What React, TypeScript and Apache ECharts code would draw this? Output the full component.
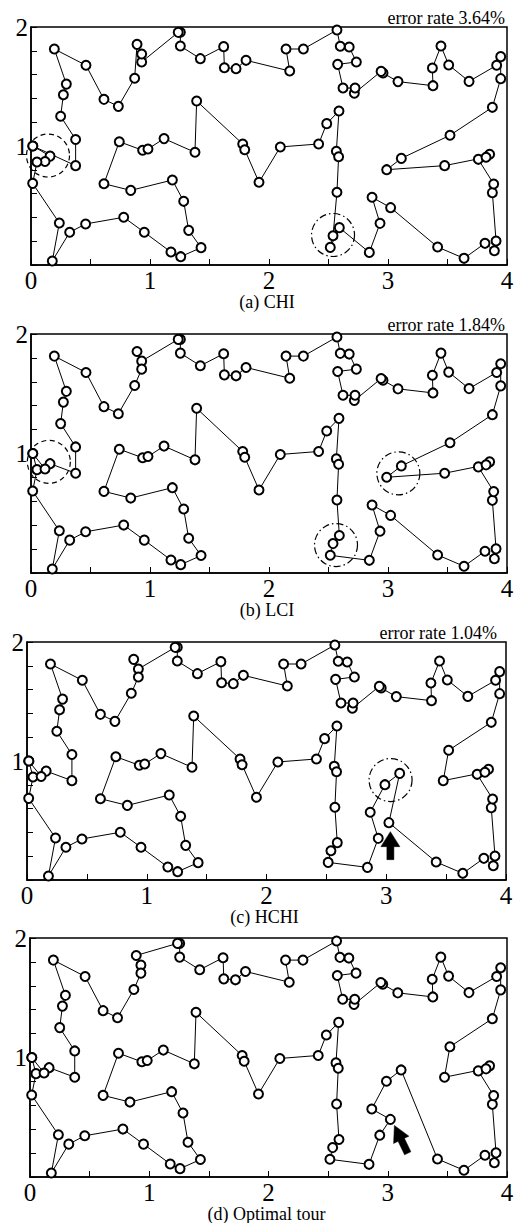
import React, { useEffect, useRef } from 'react';
import * as echarts from 'echarts';

// ---- city coordinates ----
const cityNames = [
  'L1','L2','L3','L4','L5','L6','L7','L8','L9','L10','L11','L12','L13','L14','L15','L16','L17','L18a','L18b','L19','L20','L21','L22','L23','L24',
  'L25','L26','L27','L28','L29','L30','L31','L32','L33','L34','L35','L36','L37','L38','L39','L40','L41','L42','L43','L44','L45','L46','L47','L48',
  'R1','R2','R3','R4','R5','R6','R7','R8','R9','R10','R11','R12a','R12b','R13','R14','R15','R16','R17','R18','R19','R20','R21','R22','R23','R24',
  'R25','R26','R27','R28a','R28b','R29','R30','R31','R32','R33','R34','R35','R36','R37','R38','R39','R40','R41','R42','R43','R44','R45','R46','R47','R48','R49'
];
const cityX = [
  0.015,0.05,0.118,0.16,0.375,0.375,0.249,0.272,0.297,0.196,0.462,0.613,0.734,0.871,0.891,0.93,0.93,1.237,1.255,1.255,1.423,1.619,1.625,1.723,1.807,
  1.392,1.779,1.796,1.916,1.378,1.118,0.983,0.938,0.742,0.613,0.838,1.188,1.283,1.325,1.429,1.258,1.176,0.952,0.779,0.459,0.325,0.179,0.238,0.014,
  2.174,2.143,2.289,2.571,2.599,2.674,2.734,2.577,2.622,2.723,2.717,2.942,2.958,3.084,3.378,3.373,3.445,3.51,3.681,3.913,3.947,3.947,3.877,3.521,3.112,
  2.989,3.476,3.759,3.824,3.854,3.888,3.877,3.908,3.894,3.815,3.639,3.417,3.022,2.866,2.933,2.843,2.591,2.538,2.515,2.571,2.585,2.566,2.588,2.485,2.417,2.095
];
const cityY = [
  1.0,0.865,0.87,0.915,0.835,1.055,1.25,1.43,1.52,1.815,1.678,1.392,1.333,1.569,1.854,1.773,1.706,1.955,1.955,1.84,1.734,1.835,1.658,1.65,1.72,
  1.378,1.017,0.969,0.695,0.947,1.062,0.975,0.964,1.036,0.683,0.627,0.714,0.535,0.291,0.146,0.07,0.109,0.275,0.401,0.345,0.275,0.034,0.353,0.686,
  1.63,1.815,1.815,1.975,1.838,1.832,1.706,1.686,1.487,1.487,1.443,1.627,1.613,1.541,1.507,1.655,1.84,1.681,1.543,1.678,1.751,1.566,1.325,1.09,0.896,
  0.801,0.835,0.888,0.905,0.93,0.681,0.608,0.202,0.12,0.182,0.056,0.151,0.482,0.569,0.35,0.106,0.314,0.246,0.148,0.611,0.91,0.955,1.294,1.188,1.017,0.992
];

// ---- tours (visiting order, closed back to the first city) ----
const tourCHI = [
  'L1','L4','L3','L2','L48','L47','L46','L45','L44','L43','L42','L41','L40','L39','L38','L37','L36','L35','L34','L33','L32','L31','L30','L29','L25','L26','L27','L28',
  'R49','R48','R47','R46','R45','R44','R43','R41','R42','R40','R39','R38','R37','R36','R35','R34','R33','R32','R31','R30','R29','R27','R28b','R28a','R26','R25','R24','R23',
  'R22','R21','R20','R19','R18','R17','R16','R15','R14','R13','R12b','R12a','R11','R10','R9','R8','R7','R6','R5','R4','R3','R2','R1',
  'L24','L23','L22','L21','L20','L19','L18b','L18a','L17','L16','L15','L14','L13','L12','L11','L10','L9','L8','L7','L6','L5'
];
const tourLCI = [
  'L1','L2','L48','L47','L46','L45','L44','L43','L42','L41','L40','L39','L38','L37','L36','L35','L34','L33','L32','L31','L30','L29','L25','L26','L27','L28',
  'R49','R48','R47','R46','R45','R44','R43','R40','R41','R42','R39','R38','R37','R36','R35','R34','R33','R32','R31','R30','R29','R27','R28b','R28a','R26','R25','R24','R23',
  'R22','R21','R20','R19','R18','R17','R16','R15','R14','R13','R12b','R12a','R11','R10','R9','R8','R7','R6','R5','R4','R3','R2','R1',
  'L24','L23','L22','L21','L20','L19','L18b','L18a','L16','L15','L17','L14','L13','L12','L11','L10','L9','L8','L7','L6','L5','L4','L3'
];
const tourHCHI = [
  'L1','L2','L48','L47','L46','L45','L44','L43','L42','L41','L40','L39','L38','L37','L36','L35','L34','L33','L32','L31','L30','L29','L25','L26','L27','L28',
  'R49','R48','R47','R46','R45','R44','R43','R40','R41','R42','R39','R38','R37','R25','R24','R36','R35','R34','R33','R32','R31','R30','R29','R27','R28b','R28a','R26','R23',
  'R22','R21','R20','R19','R18','R17','R16','R15','R14','R13','R12b','R12a','R11','R10','R9','R8','R7','R6','R5','R4','R3','R2','R1',
  'L24','L23','L22','L21','L20','L19','L18b','L18a','L16','L15','L17','L14','L13','L12','L11','L10','L9','L8','L7','L6','L5','L4','L3'
];
const tourOptimal = [
  'L1','L2','L48','L47','L46','L45','L44','L43','L42','L41','L40','L39','L38','L37','L36','L35','L34','L33','L32','L31','L30','L29','L25','L26','L27','L28',
  'R49','R48','R47','R46','R45','R44','R43','R40','R41','R42','R39','R38','R36','R37','R25','R24','R35','R34','R33','R32','R31','R30','R29','R27','R28b','R28a','R26','R23',
  'R22','R21','R20','R19','R18','R17','R16','R15','R14','R13','R12b','R12a','R11','R10','R9','R8','R7','R6','R5','R4','R3','R2','R1',
  'L24','L23','L22','L21','L20','L19','L18b','L18a','L15','L16','L17','L14','L13','L12','L11','L10','L9','L8','L7','L6','L5','L4','L3'
];

const panelTitles = ['(a) CHI', '(b) LCI', '(c) HCHI', '(d) Optimal tour'];
const errorRates = ['error rate 3.64%', 'error rate 1.84%', 'error rate 1.04%', ''];
const xTickLabels = ['0', '1', '2', '3', '4'];
const yTickLabels = ['1', '2'];

// highlight circles (panel index, centre in data units, style)
const markPanel = [0, 0, 1, 1, 1, 2];
const markX = [0.143, 2.538, 0.15, 2.563, 3.087, 3.036];
const markY = [0.92, 0.252, 0.93, 0.234, 0.834, 0.84];
const markStyle = ['dash', 'dashdot', 'dash', 'dashdot', 'dashdot', 'dashdot'];

// arrows pointing at a city
const arrowPanel = [2, 3];
const arrowCity = ['R36', 'R36'];

const tours = [tourCHI, tourLCI, tourHCHI, tourOptimal];

const FONT = 'Liberation Serif';

// layout of the four panels (pixels)
const grids = [
  { left: 31, top: 27, width: 476, height: 238 },
  { left: 31, top: 334, width: 476, height: 239 },
  { left: 27, top: 642, width: 479, height: 238 },
  { left: 30, top: 938, width: 477, height: 239 },
];
const errRight = [505, 505, 497, 505];

function cityPoint(name: string): [number, number] {
  const i = cityNames.indexOf(name);
  return [cityX[i], cityY[i]];
}

export default function App() {
  const ref = useRef<HTMLDivElement>(null);
  useEffect(() => {
    const chart = echarts.init(ref.current!, null, { renderer: 'svg' });
    const xAxis = grids.map((_, i) => ({
      type: 'value',
      gridIndex: i,
      min: 0,
      max: 4,
      interval: 0.5,
      axisLine: { show: true, lineStyle: { color: '#000', width: 1.5 } },
      axisTick: { show: true, inside: true, length: 6, lineStyle: { color: '#000', width: 1 } },
      splitLine: { show: false },
      axisLabel: {
        margin: 3,
        color: '#000',
        fontSize: 25,
        fontFamily: FONT,
        formatter: (v: number) => {
          const r = Math.round(v);
          return Math.abs(v - r) < 1e-6 && xTickLabels.includes(String(r)) ? String(r) : '';
        },
      },
    }));
    const yAxis = grids.map((_, i) => ({
      type: 'value',
      gridIndex: i,
      min: 0,
      max: 2,
      interval: 0.2,
      axisLine: { show: true, lineStyle: { color: '#000', width: 1.5 } },
      axisTick: { show: true, inside: true, length: 6, lineStyle: { color: '#000', width: 1 } },
      splitLine: { show: false },
      axisLabel: {
        margin: 3,
        color: '#000',
        fontSize: 25,
        fontFamily: FONT,
        formatter: (v: number) => {
          const r = Math.round(v);
          return Math.abs(v - r) < 1e-6 && yTickLabels.includes(String(r)) ? String(r) : '';
        },
      },
    }));
    const series = tours.map((t, i) => {
      const pts = t.map(cityPoint);
      pts.push(pts[0]);
      return {
        type: 'line',
        xAxisIndex: i,
        yAxisIndex: i,
        data: pts,
        symbol: 'emptyCircle',
        symbolSize: 9,
        showSymbol: true,
        lineStyle: { color: '#000', width: 1 },
        itemStyle: { color: '#000', borderColor: '#222', borderWidth: 0.6 },
        silent: true,
      };
    });
    chart.setOption({
      animation: false,
      backgroundColor: '#fff',
      grid: grids.map((g) => ({ ...g, show: true, borderColor: '#000', borderWidth: 1.5, backgroundColor: 'transparent' })),
      xAxis,
      yAxis,
      series,
    });

    const graphic: any[] = [];
    grids.forEach((g, i) => {
      graphic.push({
        type: 'text',
        x: g.left + g.width / 2 - 2,
        y: g.top + g.height + 37,
        style: {
          text: panelTitles[i], fontSize: 18, fontFamily: FONT, fill: '#000',
          align: 'center', verticalAlign: 'middle', textAlign: 'center', textVerticalAlign: 'middle',
        },
      });
      if (errorRates[i]) {
        graphic.push({
          type: 'text',
          x: errRight[i],
          y: g.top - 9,
          style: {
            text: errorRates[i], fontSize: 18, fontFamily: FONT, fill: '#000',
            align: 'right', verticalAlign: 'middle', textAlign: 'right', textVerticalAlign: 'middle',
          },
        });
      }
    });
    markPanel.forEach((p, k) => {
      const c = chart.convertToPixel({ gridIndex: p }, [markX[k], markY[k]]) as number[];
      graphic.push({
        type: 'circle',
        shape: { cx: c[0], cy: c[1], r: 21.5 },
        style: {
          fill: 'none', stroke: '#000', lineWidth: 1.2,
          lineDash: markStyle[k] === 'dash' ? [5, 3.5] : [7, 3, 1.5, 3],
        },
        silent: true,
      });
    });
    arrowPanel.forEach((p, k) => {
      const c = chart.convertToPixel({ gridIndex: p }, cityPoint(arrowCity[k])) as number[];
      let tip: number[], d: number[], headLen: number, headHalf: number, total: number;
      if (k === 0) {
        tip = [c[0] + 1.5, c[1] + 9];
        d = [0, 1];
        headLen = 15; headHalf = 9.5; total = 28;
      } else {
        tip = [c[0] + 4, c[1] + 6];
        d = [0.43, 0.9];
        headLen = 16; headHalf = 8.5; total = 31;
      }
      const n = [-d[1], d[0]];
      const sh = 3.5;
      const P = (a: number, b: number) => [tip[0] + d[0] * a + n[0] * b, tip[1] + d[1] * a + n[1] * b];
      graphic.push({
        type: 'polygon',
        shape: { points: [P(0, 0), P(headLen, headHalf), P(headLen, sh), P(total, sh), P(total, -sh), P(headLen, -sh), P(headLen, -headHalf)] },
        style: { fill: '#000', stroke: '#000', lineWidth: 0.5 },
        silent: true,
      });
    });
    chart.setOption({ graphic });
    return () => chart.dispose();
  }, []);
  return <div ref={ref} style={{ position: 'absolute', left: 0, top: 0, width: 518, height: 1223 }} />;
}
